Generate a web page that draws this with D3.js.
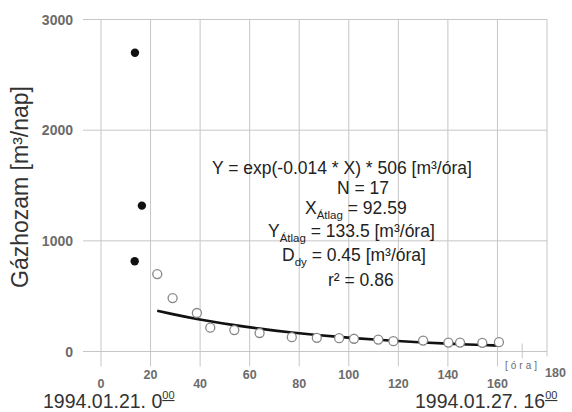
<!DOCTYPE html>
<html>
<head>
<meta charset="utf-8">
<script src="https://cdn.jsdelivr.net/npm/d3@7/dist/d3.min.js"></script>
<style>
  html, body { margin: 0; padding: 0; background: #ffffff; }
  svg { display: block; }
  text { font-family: "Liberation Sans", Arial, sans-serif; }
</style>
</head>
<body>
<script>
// Measured gas flow: early points (filled) and the fitted decline series (open)
const earlyHours = [13.7, 16.5, 13.6];
const earlyFlow  = [2700, 1318, 815];

const hours = [22.7, 28.9, 38.7, 44.1, 53.8, 64.0, 77.0, 87.1, 96.1, 102.1,
               111.9, 118.0, 130.0, 140.2, 144.9, 153.9, 160.6];
const flow  = [700, 483, 348, 215, 194, 167, 129, 124, 120, 115,
               108, 93, 99, 81, 81, 78, 84];

// Exponential fit parameters: Y = exp(k * X) * A
const fitK = -0.014;
const fitA = 506;

const xTicksLow  = [0, 40, 80, 120, 160];
const xTicksHigh = [20, 60, 100, 140];
const yTicks = [0, 1000, 2000, 3000];

const statLines = [
  { x: 212, y: 174, parts: [{ t: "Y = exp(-0.014 * X) * 506 [m³/óra]" }] },
  { x: 337, y: 194, parts: [{ t: "N = 17" }] },
  { x: 305, y: 214, parts: [{ t: "X" }, { t: "Átlag", sub: true }, { t: " = 92.59", back: true }] },
  { x: 268, y: 237, parts: [{ t: "Y" }, { t: "Átlag", sub: true }, { t: " = 133.5 [m³/óra]", back: true }] },
  { x: 282, y: 261, parts: [{ t: "D" }, { t: "dy", sub: true }, { t: " = 0.45 [m³/óra]", back: true }] },
  { x: 328, y: 286, parts: [{ t: "r² = 0.86" }] }
];

const W = 572, H = 412;
const svg = d3.select("body").append("svg").attr("width", W).attr("height", H);

const x = d3.scaleLinear().domain([0, 180]).range([101, 547]);
const y = d3.scaleLinear().domain([0, 3000]).range([351.5, 19.5]);

const gridColor = "#c6c6c6";
const grid = svg.append("g").attr("stroke", gridColor).attr("stroke-width", 1).attr("fill", "none");

// vertical grid lines, extending below the zero line as ticks
d3.range(0, 181, 20).forEach(v => {
  grid.append("line")
    .attr("x1", x(v)).attr("x2", x(v))
    .attr("y1", y(3000)).attr("y2", v === 180 ? y(0) + 5 : y(0) + 15);
});
// horizontal grid lines, extending left of the origin as ticks
yTicks.forEach(v => {
  grid.append("line")
    .attr("x1", 83).attr("x2", x(180))
    .attr("y1", y(v)).attr("y2", y(v));
});
// small cross tick marking the hour unit
grid.append("line").attr("x1", x(170)).attr("x2", x(170))
  .attr("y1", y(0) - 8).attr("y2", y(0) + 7);
grid.append("line").attr("x1", x(170) - 11).attr("x2", x(170) + 11)
  .attr("y1", y(0)).attr("y2", y(0));

// y tick labels
svg.append("g").selectAll("text").data(yTicks).join("text")
  .attr("x", 73).attr("y", d => y(d) + 5)
  .attr("text-anchor", "end")
  .attr("font-size", 14).attr("font-weight", "bold").attr("fill", "#6b6b6b")
  .text(d => d);

// x tick labels, staggered in two rows
svg.append("g").selectAll("text").data(xTicksLow).join("text")
  .attr("x", d => x(d)).attr("y", 388)
  .attr("text-anchor", "middle")
  .attr("font-size", 12.5).attr("font-weight", "bold").attr("fill", "#6b6b6b")
  .text(d => d);
svg.append("g").selectAll("text").data(xTicksHigh).join("text")
  .attr("x", d => x(d)).attr("y", 379)
  .attr("text-anchor", "middle")
  .attr("font-size", 12.5).attr("font-weight", "bold").attr("fill", "#6b6b6b")
  .text(d => d);
svg.append("text")
  .attr("x", x(180) - 2).attr("y", 377)
  .attr("font-size", 12.5).attr("font-weight", "bold").attr("fill", "#6b6b6b")
  .text("180");
svg.append("text")
  .attr("x", 505).attr("y", 369)
  .attr("font-size", 10).attr("letter-spacing", 3).attr("fill", "#6b6b6b")
  .text("[óra]");

// axis title
svg.append("text")
  .attr("transform", "translate(28,187) rotate(-90)")
  .attr("text-anchor", "middle")
  .attr("font-size", 23).attr("fill", "#333")
  .text("Gázhozam [m³/nap]");

// start and end date labels
function dateLabel(xPos, main) {
  const t = svg.append("text").attr("x", xPos).attr("y", 408)
    .attr("font-size", 19.5).attr("fill", "#333");
  t.append("tspan").text(main);
  t.append("tspan").attr("font-size", 11).attr("dy", -9)
    .attr("text-decoration", "underline").text("00");
}
dateLabel(43, "1994.01.21. 0");
dateLabel(415, "1994.01.27. 16");

// fitted exponential curve evaluated at the measured hours
const fitted = hours.map(h => ({ h, v: Math.exp(fitK * h) * fitA }));
svg.append("path")
  .datum(fitted)
  .attr("fill", "none").attr("stroke", "#111").attr("stroke-width", 2.6)
  .attr("d", d3.line().x(d => x(d.h)).y(d => y(d.v)).curve(d3.curveMonotoneX));

// measured points used in the fit
svg.append("g").selectAll("circle").data(hours.map((h, i) => [h, flow[i]])).join("circle")
  .attr("cx", d => x(d[0])).attr("cy", d => y(d[1])).attr("r", 4.5)
  .attr("fill", "#fff").attr("stroke", "#888").attr("stroke-width", 1.3);

// early points excluded from the fit
svg.append("g").selectAll("circle").data(earlyHours.map((h, i) => [h, earlyFlow[i]])).join("circle")
  .attr("cx", d => x(d[0])).attr("cy", d => y(d[1])).attr("r", 4.2)
  .attr("fill", "#111");

// regression statistics
const stats = svg.append("g").attr("font-size", 17.5).attr("fill", "#222");
statLines.forEach(line => {
  const t = stats.append("text").attr("x", line.x).attr("y", line.y);
  line.parts.forEach(p => {
    const s = t.append("tspan").text(p.t);
    if (p.sub) s.attr("font-size", 11.5).attr("dy", 5);
    if (p.back) s.attr("dy", -5);
  });
});
</script>
</body>
</html>
